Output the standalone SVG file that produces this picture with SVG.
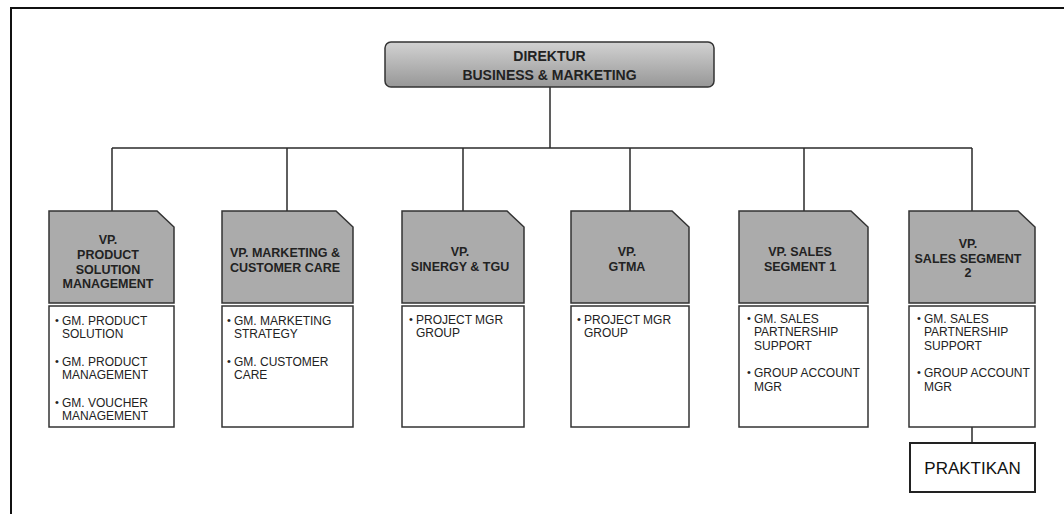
<svg xmlns="http://www.w3.org/2000/svg" width="1064" height="514" viewBox="0 0 1064 514">
<defs>
<linearGradient id="dirGrad" x1="0" y1="0" x2="0" y2="1">
<stop offset="0" stop-color="#d2d2d2"/>
<stop offset="1" stop-color="#979797"/>
</linearGradient>
<style>
.frame{fill:none;stroke:#111;stroke-width:2}
.conn{fill:none;stroke:#2a2a2a;stroke-width:1.5}
.vp{fill:#ababab;stroke:#333;stroke-width:1.5}
.list{fill:#fff;stroke:#333;stroke-width:1.5}
.hd{font-family:"Liberation Sans",Arial,sans-serif;font-weight:bold;font-size:12.5px;fill:#222;text-anchor:middle}
.dir{font-family:"Liberation Sans",Arial,sans-serif;font-weight:bold;font-size:14px;fill:#222;text-anchor:middle}
.it{font-family:"Liberation Sans",Arial,sans-serif;font-size:12px;fill:#222}
.bul{font-family:"Liberation Sans",Arial,sans-serif;font-size:11px;fill:#222}
.pk{font-family:"Liberation Sans",Arial,sans-serif;font-size:17px;fill:#111;text-anchor:middle}
</style>
</defs>
<rect width="1064" height="514" fill="#fff"/>
<path class="frame" d="M11,514 V8 H1064"/>

<g id="connectors">
<path class="conn" d="M550,87 V148"/>
<path class="conn" d="M112,148 H972"/>
<path class="conn" d="M112,148 V211"/>
<path class="conn" d="M287,148 V211"/>
<path class="conn" d="M463,148 V211"/>
<path class="conn" d="M630,148 V211"/>
<path class="conn" d="M804,148 V211"/>
<path class="conn" d="M972,148 V211"/>
<path class="conn" d="M972,427 V443"/>
</g>

<g id="direktur">
<rect x="385" y="42" width="329" height="45" rx="6" ry="6" fill="url(#dirGrad)" stroke="#333" stroke-width="1.5"/>
<text class="dir" x="549.5" y="61">DIREKTUR</text>
<text class="dir" x="549.5" y="80">BUSINESS &amp; MARKETING</text>
</g>

<g id="vp-product">
<path class="vp" d="M49,211 H157 L174,227 V303 H49 Z"/>
<text class="hd" x="108" y="244">VP.</text>
<text class="hd" x="108" y="259">PRODUCT</text>
<text class="hd" x="108" y="273.5">SOLUTION</text>
<text class="hd" x="108" y="288">MANAGEMENT</text>
<rect class="list" x="49" y="306" width="125" height="121"/>
<text class="bul" x="55" y="324">•</text><text class="it" x="62" y="325">GM. PRODUCT</text>
<text class="it" x="62" y="338">SOLUTION</text>
<text class="bul" x="55" y="365">•</text><text class="it" x="62" y="366">GM. PRODUCT</text>
<text class="it" x="62" y="379">MANAGEMENT</text>
<text class="bul" x="55" y="406">•</text><text class="it" x="62" y="407">GM. VOUCHER</text>
<text class="it" x="62" y="420">MANAGEMENT</text>
</g>

<g id="vp-marketing">
<path class="vp" d="M222,211 H336 L353,227 V303 H222 Z"/>
<text class="hd" x="285" y="257">VP. MARKETING &amp;</text>
<text class="hd" x="285" y="272">CUSTOMER CARE</text>
<rect class="list" x="222" y="306" width="131" height="121"/>
<text class="bul" x="227" y="324">•</text><text class="it" x="234" y="325">GM. MARKETING</text>
<text class="it" x="234" y="338">STRATEGY</text>
<text class="bul" x="227" y="365">•</text><text class="it" x="234" y="366">GM. CUSTOMER</text>
<text class="it" x="234" y="379">CARE</text>
</g>

<g id="vp-sinergy">
<path class="vp" d="M402,211 H507 L524,227 V303 H402 Z"/>
<text class="hd" x="460" y="256">VP.</text>
<text class="hd" x="460" y="271">SINERGY &amp; TGU</text>
<rect class="list" x="402" y="306" width="122" height="121"/>
<text class="bul" x="409" y="323">•</text><text class="it" x="416" y="324">PROJECT MGR</text>
<text class="it" x="416" y="337">GROUP</text>
</g>

<g id="vp-gtma">
<path class="vp" d="M571,211 H672 L689,227 V303 H571 Z"/>
<text class="hd" x="627" y="256">VP.</text>
<text class="hd" x="627" y="271">GTMA</text>
<rect class="list" x="571" y="306" width="118" height="121"/>
<text class="bul" x="577" y="323">•</text><text class="it" x="584" y="324">PROJECT MGR</text>
<text class="it" x="584" y="337">GROUP</text>
</g>

<g id="vp-sales1">
<path class="vp" d="M739,211 H851 L868,227 V303 H739 Z"/>
<text class="hd" x="800" y="256">VP. SALES</text>
<text class="hd" x="800" y="271">SEGMENT 1</text>
<rect class="list" x="739" y="306" width="129" height="121"/>
<text class="bul" x="747" y="322">•</text><text class="it" x="754" y="323">GM. SALES</text>
<text class="it" x="754" y="336">PARTNERSHIP</text>
<text class="it" x="754" y="350">SUPPORT</text>
<text class="bul" x="747" y="376">•</text><text class="it" x="754" y="377">GROUP ACCOUNT</text>
<text class="it" x="754" y="391">MGR</text>
</g>

<g id="vp-sales2">
<path class="vp" d="M909,211 H1018 L1035,227 V303 H909 Z"/>
<text class="hd" x="968" y="248">VP.</text>
<text class="hd" x="968" y="263">SALES SEGMENT</text>
<text class="hd" x="968" y="277">2</text>
<rect class="list" x="909" y="306" width="126" height="121"/>
<text class="bul" x="917" y="322">•</text><text class="it" x="924" y="323">GM. SALES</text>
<text class="it" x="924" y="336">PARTNERSHIP</text>
<text class="it" x="924" y="350">SUPPORT</text>
<text class="bul" x="917" y="376">•</text><text class="it" x="924" y="377">GROUP ACCOUNT</text>
<text class="it" x="924" y="391">MGR</text>
</g>

<g id="praktikan">
<rect x="910" y="443" width="125" height="49" fill="#fff" stroke="#222" stroke-width="2"/>
<text class="pk" x="972.5" y="474">PRAKTIKAN</text>
</g>
</svg>
